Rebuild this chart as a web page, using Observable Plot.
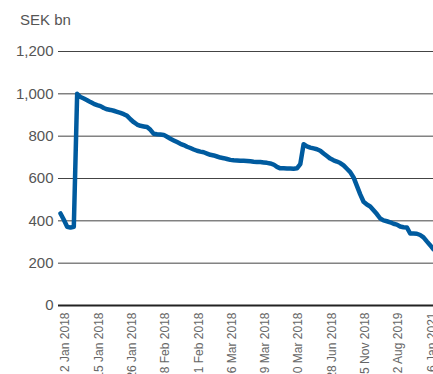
<!DOCTYPE html>
<html>
<head>
<meta charset="utf-8">
<script src="https://cdn.jsdelivr.net/npm/d3@7"></script>
<script src="https://cdn.jsdelivr.net/npm/@observablehq/plot@0.6"></script>
<style>
  html, body { margin: 0; padding: 0; background: #fff; overflow: hidden; }
  #wrap { position: relative; width: 433px; height: 374px; }
  #title { position: absolute; left: 20px; top: 12px; font: 15px "Liberation Sans", Arial, sans-serif; line-height: 1; color: #555; }
  #chart { position: absolute; left: 0; top: 0; }
</style>
</head>
<body>
<div id="wrap">
  <div id="chart"></div>
  <div id="title">SEK bn</div>
</div>
<script>
// Series values (SEK bn), one per observation, in order
const values = [
  435, 405, 372, 368, 372, 1000, 985, 978, 970, 961,
  953, 947, 942, 933, 927, 924, 920, 915, 910, 904,
  896, 880, 866, 855, 849, 846, 843, 830, 811, 809,
  808, 806, 797, 788, 780, 772, 764, 758, 750, 744,
  737, 731, 727, 724, 718, 712, 709, 704, 699, 696,
  692, 688, 686, 685, 684, 684, 683, 681, 679, 678,
  678, 676, 674, 671, 666, 655, 648, 648, 647, 647,
  646, 648, 668, 762, 752, 746, 742, 738, 731, 718,
  706, 694, 686, 680, 673, 662, 646, 630, 605, 565,
  525, 490, 477, 468, 450, 432, 411, 402, 398, 393,
  386, 382, 373, 370, 369, 340, 340, 339, 333, 322,
  303, 285, 265
];
// Labelled observations (index into values) and their dates
const tickIndex = [0, 10, 20, 30, 40, 50, 60, 70, 80, 90, 100, 110];
const tickLabels = [
  "2 Jan 2018", "15 Jan 2018", "26 Jan 2018", "8 Feb 2018",
  "21 Feb 2018", "6 Mar 2018", "19 Mar 2018", "30 Mar 2018",
  "28 Jun 2018", "15 Nov 2018", "2 Aug 2019", "6 Jan 2021"
];
const yTicks = [0, 200, 400, 600, 800, 1000, 1200];

const data = values.map((v, i) => ({i, v}));
const labelOf = new Map(tickIndex.map((t, k) => [t, tickLabels[k]]));

const chart = Plot.plot({
  width: 433,
  height: 374,
  marginLeft: 60,
  marginRight: 0,
  marginTop: 51,
  marginBottom: 69,
  style: { fontFamily: "'Liberation Sans', Arial, sans-serif", background: "transparent", overflow: "visible" },
  x: { domain: [0, values.length - 1] },
  y: { domain: [0, 1200] },
  marks: [
    Plot.ruleY(yTicks.filter(d => d > 0), { stroke: "#444", strokeWidth: 1, insetLeft: -2 }),
    Plot.ruleY([0], { stroke: "#222", strokeWidth: 2, insetLeft: -2 }),
    Plot.axisY({
      ticks: yTicks, tickSize: 0, tickPadding: 7, label: null,
      tickFormat: d3.format(","), fontSize: 15, fill: "#555"
    }),
    Plot.axisX({
      ticks: tickIndex, tickSize: 0, tickPadding: 7, label: null,
      tickRotate: -90, tickFormat: d => labelOf.get(d), fontSize: 12, fill: "#666", dx: 5
    }),
    Plot.line(data, { x: "i", y: "v", stroke: "#005b9f", strokeWidth: 4.5, strokeLinejoin: "round" })
  ]
});
document.getElementById("chart").appendChild(chart);
</script>
</body>
</html>
